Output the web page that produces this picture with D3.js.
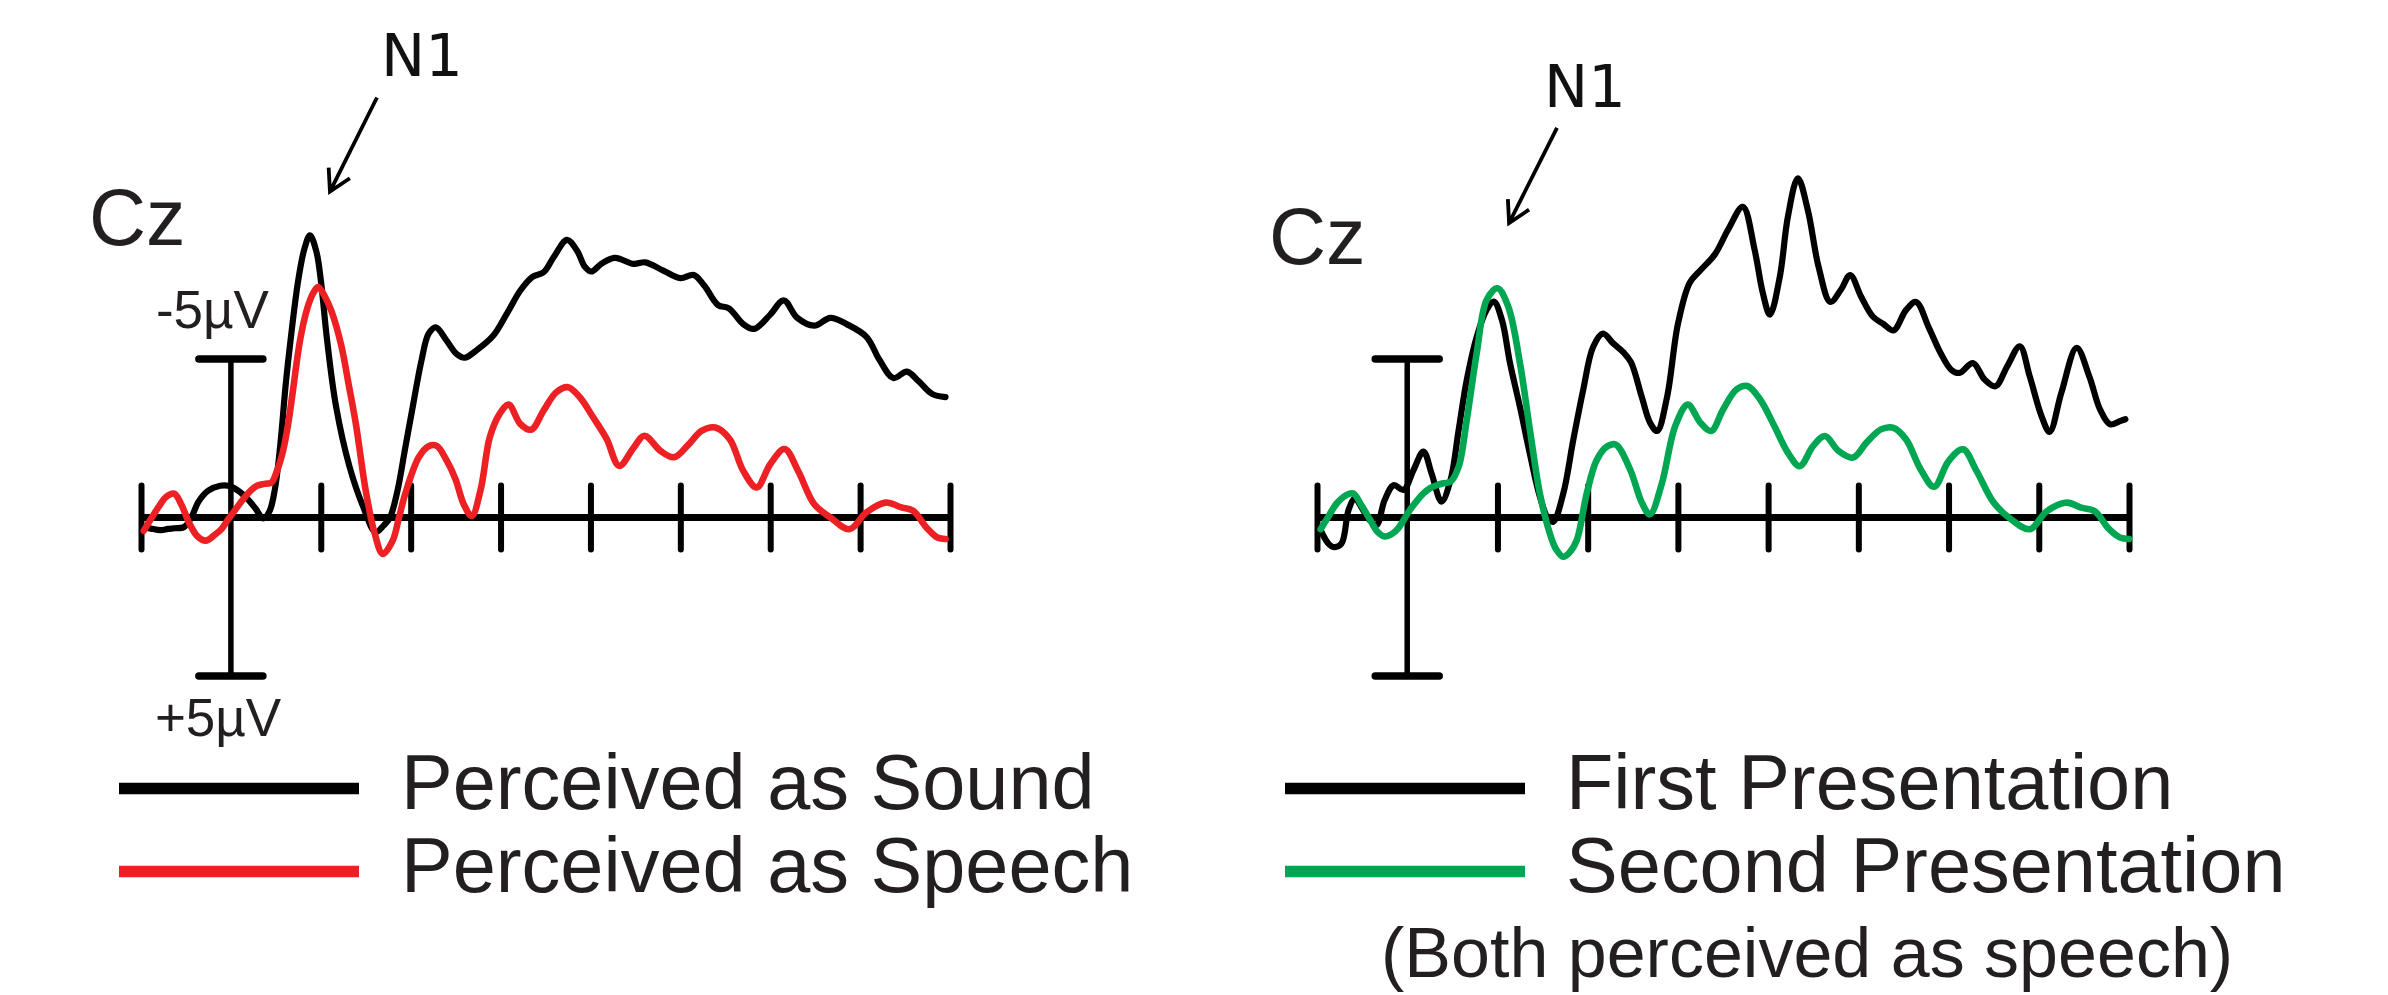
<!DOCTYPE html>
<html><head><meta charset="utf-8">
<script src="https://cdn.jsdelivr.net/npm/d3@7"></script>
<style>html,body{margin:0;padding:0;background:#fff;} svg{display:block;}</style>
</head><body>
<svg id="chart" width="2388" height="995"></svg>
<script>
// ---------- DATA (time in ms, amplitude in µV; negative plotted up) ----------
const tickValues = [-100, 0, 100, 200, 300, 400, 500, 600, 700, 800];
const scaleBarValues = [-5, 5];
const scaleBarLabels = ["-5µV", "+5µV"];
const channelLabel = "Cz";
const peakLabel = "N1";

const soundSeries = [[-97,0.3],[-89,0.35],[-78,0.4],[-70,0.36],[-63,0.34],[-52,0.3],[-44,0.0],[-36,-0.5],[-25,-0.85],[-12,-1.0],[-3,-1.0],[8,-0.85],[18,-0.6],[27,-0.3],[36,0.03],[43,-0.2],[49,-0.9],[55,-2.3],[61,-4.2],[66,-5.5],[75,-7.5],[82,-8.5],[88,-8.9],[95,-8.4],[100,-7.5],[107,-5.6],[117,-3.5],[132,-1.6],[147,-0.35],[161,0.46],[170,0.25],[177,0.0],[185,-0.8],[194,-2.2],[203,-3.6],[212,-4.95],[220,-5.8],[228,-6.0],[240,-5.58],[251,-5.16],[260,-5.04],[273,-5.27],[292,-5.74],[307,-6.43],[322,-7.16],[335,-7.58],[348,-7.74],[359,-8.21],[374,-8.76],[385,-8.42],[394,-7.9],[401,-7.76],[412,-8.0],[427,-8.19],[448,-8.0],[461,-8.05],[481,-7.79],[500,-7.55],[515,-7.65],[527,-7.3],[542,-6.7],[554,-6.6],[570,-6.1],[582,-5.95],[600,-6.4],[615,-6.85],[630,-6.3],[649,-6.05],[667,-6.3],[685,-6.1],[707,-5.7],[722,-4.95],[737,-4.4],[752,-4.6],[765,-4.3],[780,-3.9],[795,-3.8]];

const speechSeries = [[-97,0.42],[-88,0.0],[-80,-0.35],[-72,-0.65],[-63,-0.75],[-55,-0.4],[-46,0.2],[-37,0.6],[-28,0.73],[-18,0.55],[-10,0.35],[-4,0.1],[5,-0.25],[14,-0.59],[22,-0.85],[29,-1.0],[37,-1.06],[45,-1.1],[51,-1.45],[58,-2.1],[64,-3.0],[69,-4.0],[77,-5.6],[85,-6.6],[92,-7.1],[97,-7.27],[104,-7.0],[112,-6.5],[123,-5.4],[131,-4.2],[139,-2.96],[150,-0.85],[160,0.51],[169,1.15],[180,0.73],[187,0.0],[194,-0.75],[209,-1.9],[220,-2.25],[229,-2.26],[240,-1.8],[250,-1.2],[259,-0.42],[268,-0.05],[278,-0.9],[288,-2.53],[299,-3.27],[309,-3.56],[322,-2.95],[334,-2.77],[348,-3.38],[362,-3.95],[375,-4.11],[388,-3.8],[403,-3.16],[418,-2.48],[432,-1.63],[448,-2.2],[460,-2.58],[478,-2.1],[493,-1.9],[509,-2.3],[524,-2.74],[539,-2.84],[555,-2.47],[570,-1.47],[585,-0.95],[600,-1.68],[616,-2.16],[631,-1.47],[649,-0.42],[667,0.0],[688,0.37],[707,-0.16],[728,-0.47],[746,-0.32],[759,-0.21],[774,0.32],[786,0.63],[795,0.68]];

const firstSeries = [[-96,0.4],[-88,0.8],[-82,0.93],[-73,0.83],[-65,-0.24],[-58,-0.6],[-49,-0.24],[-41,0.1],[-34,0.24],[-25,-0.55],[-15,-1.02],[-4,-0.87],[7,-1.5],[18,-2.08],[27,-1.39],[38,-0.5],[48,-1.18],[57,-2.76],[66,-4.34],[77,-5.7],[88,-6.55],[96,-6.81],[105,-6.23],[114,-4.86],[125,-3.48],[136,-2.0],[147,-0.66],[157,0.08],[162,0.13],[173,-0.76],[184,-2.44],[195,-4.02],[206,-5.38],[217,-5.8],[228,-5.5],[240,-5.2],[248,-4.9],[260,-3.8],[269,-3.0],[277,-2.73],[288,-3.8],[300,-6.1],[313,-7.4],[325,-7.8],[341,-8.3],[356,-9.1],[372,-9.8],[385,-8.45],[394,-7.1],[402,-6.4],[413,-7.6],[422,-9.5],[433,-10.7],[444,-9.7],[456,-7.9],[469,-6.8],[481,-7.2],[491,-7.65],[503,-6.97],[516,-6.34],[528,-6.1],[539,-5.9],[553,-6.55],[564,-6.8],[578,-6.0],[591,-5.2],[603,-4.66],[612,-4.56],[627,-4.87],[640,-4.35],[652,-4.14],[665,-4.77],[679,-5.4],[690,-4.45],[703,-3.2],[712,-2.7],[725,-3.93],[742,-5.35],[756,-4.45],[768,-3.4],[779,-2.94],[790,-3.04],[796,-3.1]];

const secondSeries = [[-96,0.37],[-88,0.0],[-78,-0.45],[-68,-0.7],[-60,-0.76],[-50,-0.35],[-41,0.08],[-33,0.45],[-25,0.6],[-17,0.52],[-10,0.34],[3,-0.24],[10,-0.5],[18,-0.76],[25,-0.92],[33,-1.02],[40,-1.08],[48,-1.13],[57,-1.6],[66,-3.08],[77,-5.18],[88,-6.86],[100,-7.23],[112,-6.65],[125,-4.86],[136,-2.76],[147,-0.76],[158,0.5],[165,1.0],[173,1.24],[180,1.1],[188,0.71],[199,-0.76],[210,-1.81],[222,-2.25],[231,-2.3],[247,-1.52],[260,-0.47],[269,-0.1],[282,-1.05],[297,-2.88],[311,-3.56],[325,-2.99],[337,-2.73],[350,-3.4],[365,-4.04],[377,-4.15],[391,-3.73],[407,-2.88],[422,-2.04],[435,-1.62],[450,-2.26],[463,-2.57],[478,-2.1],[494,-1.89],[509,-2.36],[525,-2.78],[539,-2.83],[553,-2.46],[569,-1.52],[584,-0.97],[600,-1.78],[616,-2.15],[631,-1.47],[650,-0.47],[669,0.05],[690,0.37],[709,-0.2],[731,-0.47],[747,-0.31],[762,-0.2],[778,0.37],[790,0.63],[800,0.68]];

const leftLabels = ["Perceived as Sound", "Perceived as Speech"];
const rightLabels = ["First Presentation", "Second Presentation"];
const rightNote = "(Both perceived as speech)";
// N1 arrow annotation in data units: [start, tip] as [ms, µV]
const leftArrow = [[162.5,-13.25],[110.2,-10.28]];
const rightArrow = [[166,-12.29],[112.9,-9.29]];

// ---------- LAYOUT ----------
const svg = d3.select("#chart");
const TEXT = "#231f20";
const FONT = "'Liberation Sans', Arial, Helvetica, sans-serif";

const panels = [
  { xr:[141,950], series:[{d:soundSeries,c:"#000000",w:6.2,label:leftLabels[0]},{d:speechSeries,c:"#ed2024",w:6.6,label:leftLabels[1]}],
    arrow:leftArrow, cz:[89,245], n1:[381,76], showScaleLabels:true,
    legendLine:[119,359], legendText:401, note:null },
  { xr:[1317,2129], series:[{d:firstSeries,c:"#000000",w:6.2,label:rightLabels[0]},{d:secondSeries,c:"#00a651",w:6.6,label:rightLabels[1]}],
    arrow:rightArrow, cz:[1269,264], n1:[1544,107], showScaleLabels:false,
    legendLine:[1285,1525], legendText:1566, note:[1381,977] }
];
const legendY = [788.5, 871.5];
const legendBase = [809, 892];

panels.forEach(p => {
  const x = d3.scaleLinear().domain([tickValues[0], tickValues[tickValues.length-1]]).range(p.xr);
  const y = d3.scaleLinear().domain(scaleBarValues).range([359, 676]);
  const g = svg.append("g");

  // horizontal axis with ticks
  const ax = g.append("g").attr("transform", `translate(0,${y(0)})`)
    .call(d3.axisBottom(x).tickValues(tickValues.filter(t => t !== 0)).tickSize(0).tickFormat(""));
  ax.select(".domain").remove();
  ax.selectAll(".tick line").attr("y1", -32).attr("y2", 32)
    .attr("stroke", "#000").attr("stroke-width", 6).attr("stroke-linecap", "round");
  ax.append("line").attr("x1", x(tickValues[0])).attr("x2", x(tickValues[tickValues.length-1]))
    .attr("y1", 0).attr("y2", 0).attr("stroke", "#000").attr("stroke-width", 7);

  // vertical scale bar at t=0
  g.append("line").attr("x1", x(0)).attr("x2", x(0)).attr("y1", y(scaleBarValues[0])).attr("y2", y(scaleBarValues[1]))
    .attr("stroke", "#000").attr("stroke-width", 5.5);
  scaleBarValues.forEach(v => {
    g.append("line").attr("x1", x(0) - 32).attr("x2", x(0) + 32).attr("y1", y(v)).attr("y2", y(v))
      .attr("stroke", "#000").attr("stroke-width", 7.5).attr("stroke-linecap", "round");
  });
  if (p.showScaleLabels) {
    g.append("text").attr("x", x(0) - 75).attr("y", y(scaleBarValues[0]) - 31)
      .attr("font-family", FONT).attr("font-size", 53).attr("fill", TEXT).text(scaleBarLabels[0]);
    g.append("text").attr("x", x(0) - 76).attr("y", y(scaleBarValues[1]) + 60)
      .attr("font-family", FONT).attr("font-size", 53).attr("fill", TEXT).text(scaleBarLabels[1]);
  }

  // curves
  const line = d3.line().x(d => x(d[0])).y(d => y(d[1])).curve(d3.curveCatmullRom.alpha(0.5));
  p.series.forEach(s => {
    g.append("path").datum(s.d).attr("d", line).attr("fill", "none")
      .attr("stroke", s.c).attr("stroke-width", s.w).attr("stroke-linejoin", "round").attr("stroke-linecap", "round");
  });

  // labels
  g.append("text").attr("x", p.cz[0]).attr("y", p.cz[1]).attr("font-family", FONT)
    .attr("font-size", 79).attr("fill", TEXT).text(channelLabel);
  g.append("text").attr("x", p.n1[0]).attr("y", p.n1[1]).attr("font-family", "'DejaVu Sans', Verdana, sans-serif")
    .attr("font-size", 59).attr("fill", "#111").text(peakLabel);

  // arrow
  const [s0, t0] = p.arrow;
  const sx = x(s0[0]), sy = y(s0[1]), tx = x(t0[0]), ty = y(t0[1]);
  const ang = Math.atan2(sy - ty, sx - tx);
  const L = 24, spread = 29.6 * Math.PI / 180;
  const a1 = [tx + L * Math.cos(ang - spread), ty + L * Math.sin(ang - spread)];
  const a2 = [tx + L * Math.cos(ang + spread), ty + L * Math.sin(ang + spread)];
  g.append("path").attr("d", `M${sx},${sy}L${tx},${ty}M${a1[0]},${a1[1]}L${tx},${ty}L${a2[0]},${a2[1]}`)
    .attr("fill", "none").attr("stroke", "#000").attr("stroke-width", 3.8).attr("stroke-linejoin", "miter");

  // legend
  p.series.forEach((s, i) => {
    g.append("line").attr("x1", p.legendLine[0]).attr("x2", p.legendLine[1]).attr("y1", legendY[i]).attr("y2", legendY[i])
      .attr("stroke", s.c).attr("stroke-width", 11.5);
    g.append("text").attr("x", p.legendText).attr("y", legendBase[i]).attr("font-family", FONT)
      .attr("font-size", 77.5).attr("fill", TEXT).text(s.label);
  });
  if (p.note) {
    g.append("text").attr("x", p.note[0]).attr("y", p.note[1]).attr("font-family", FONT)
      .attr("font-size", 70).attr("fill", TEXT).text(rightNote);
  }
});
</script>
</body></html>
